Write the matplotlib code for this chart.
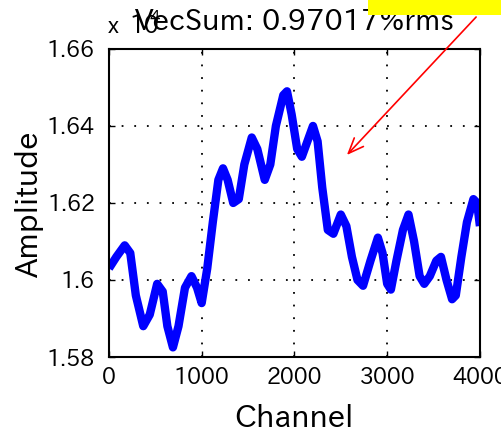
import matplotlib

matplotlib.use("Agg")

import matplotlib.pyplot as plt  # noqa: E402
from matplotlib.patches import Rectangle  # noqa: E402

plt.rcParams["font.family"] = ["IPAPGothic", "Liberation Sans", "DejaVu Sans"]

# amplitude trace across the channel range
channel = [0, 80, 170, 230, 290, 370, 440, 520, 580, 630, 690, 750, 820, 890,
           950, 1000, 1060, 1120, 1180, 1230, 1280, 1340, 1400, 1460, 1540,
           1600, 1680, 1740, 1800, 1880, 1920, 1970, 2030, 2080, 2140, 2200,
           2250, 2300, 2360, 2420, 2500, 2560, 2620, 2680, 2740, 2820, 2900,
           2950, 3000, 3040, 3100, 3170, 3230, 3290, 3350, 3400, 3460, 3530,
           3580, 3640, 3700, 3740, 3800, 3860, 3930, 3970, 4000]
amplitude = [1.603, 1.606, 1.609, 1.607, 1.596, 1.588, 1.591, 1.599, 1.597,
             1.588, 1.5825, 1.588, 1.598, 1.601, 1.598, 1.594, 1.603, 1.615,
             1.626, 1.629, 1.626, 1.620, 1.621, 1.630, 1.637, 1.634, 1.626,
             1.630, 1.640, 1.648, 1.649, 1.643, 1.634, 1.632, 1.636, 1.640,
             1.636, 1.624, 1.613, 1.612, 1.617, 1.614, 1.606, 1.600, 1.5985,
             1.605, 1.611, 1.607, 1.599, 1.5975, 1.605, 1.613, 1.617, 1.610,
             1.601, 1.599, 1.601, 1.605, 1.606, 1.600, 1.595, 1.596, 1.606,
             1.615, 1.621, 1.620, 1.614]

xticks = [0, 1000, 2000, 3000, 4000]
xtick_labels = ["0", "1000", "2000", "3000", "4000"]
yticks = [1.58, 1.60, 1.62, 1.64, 1.66]
ytick_labels = ["1.58", "1.6", "1.62", "1.64", "1.66"]

fig = plt.figure(figsize=(5.02, 4.33), dpi=100)
ax = fig.add_axes([0.217, 0.1755, 0.739, 0.7115])

ax.plot(channel, amplitude, color="#0000ff", linewidth=6,
        solid_joinstyle="round", solid_capstyle="butt")

ax.set_xlim(0, 4000)
ax.set_ylim(1.58, 1.66)
ax.set_xticks(xticks)
ax.set_xticklabels(xtick_labels, fontsize=16)
ax.set_yticks(yticks)
ax.set_yticklabels(ytick_labels, fontsize=16)
ax.tick_params(direction="in", length=4, width=1, top=True, right=True)
ax.tick_params(axis="y", pad=10)
ax.tick_params(axis="x", pad=7)
ax.grid(True, color="black", linestyle=(0, (1, 6)), linewidth=1.3)
for s in ax.spines.values():
    s.set_linewidth(1.5)

ax.set_xlabel("Channel", fontsize=22)
ax.xaxis.label.set_va("center")
ax.xaxis.set_label_coords(0.5, -0.198)
ax.set_ylabel("Amplitude", fontsize=22)
ax.yaxis.label.set_va("center")
ax.yaxis.set_label_coords(-0.213, 0.4935)

# scale factor left over from the x axis, sitting under the title
fig.text(108 / 502, 1 - 33 / 433, "x", fontsize=16, va="baseline")
fig.text(129 / 502, 1 - 33 / 433, "10", fontsize=17, va="baseline")
fig.text(149 / 502, 1 - 22 / 433, "4", fontsize=12, va="baseline")

ax.set_title("VecSum: 0.97017%rms", fontsize=21, y=1.0617, pad=0,
             va="baseline")

# highlight box and pointer
fig.patches.append(Rectangle((368 / 502, 1 - 15 / 433), 134 / 502, 15 / 433,
                             transform=fig.transFigure, facecolor="#ffff00",
                             edgecolor="none"))
ax.annotate("", xy=(345, 433 - 157), xycoords="figure pixels",
            xytext=(478, 433 - 15), textcoords="figure pixels",
            arrowprops=dict(arrowstyle="->,head_length=1.1,head_width=0.45",
                            color="red", linewidth=1.2))

fig.savefig("out.png", dpi=100)
